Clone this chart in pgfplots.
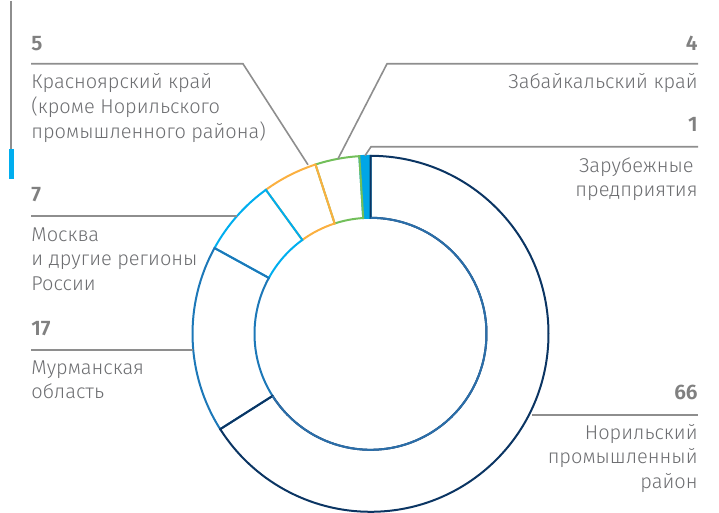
\documentclass[border=0pt]{standalone}
\usepackage{pgfplots}
\pgfplotsset{compat=1.18}
\usepackage{pgfplotstable}
\usetikzlibrary{calc}
\usepackage{fontspec}
\setmainfont{Fira Sans Light}[BoldFont={Fira Sans SemiBold}]

\definecolor{cNor}{HTML}{0B3563}
\definecolor{cNorIn}{HTML}{2B6EA9}
\definecolor{cMur}{HTML}{1D78B8}
\definecolor{cMos}{HTML}{00AEEF}
\definecolor{cKra}{HTML}{FBB040}
\definecolor{cZab}{HTML}{72BF5A}
\definecolor{cFor}{HTML}{00A6E6}
\definecolor{cTxt}{HTML}{6D6E71}
\definecolor{cNum}{HTML}{808080}
\definecolor{cLine}{HTML}{8E8E8E}

\tikzset{
  lab/.style={font=\fontsize{10}{12.5}\selectfont, text=cTxt, inner sep=0pt},
  num/.style={font=\fontsize{10.5}{12.5}\selectfont\bfseries, text=cNum, inner sep=0pt},
  lead/.style={cLine, line width=0.8pt}}

% share of regions, per cent
\pgfplotstableread{
region value
Norilsk 66
Murmansk 17
Moscow 7
Krasnoyarsk 5
Zabaikal 4
Foreign 1
}\shares

\def\cx{370.5}\def\cy{333}
\def\Ro{89pt}\def\Ri{58pt}

% one ring segment, clockwise from segS to segE
\newcommand\seg[2]{%
  \edef\sA{\csname segS#1\endcsname}\edef\sB{\csname segE#1\endcsname}%
  \edef\tmp{\noexpand\draw[#2,line width=1pt]
    ($(axis cs:\cx,\cy)+(\sA:\Ro)$) arc[start angle=\sA,end angle=\sB,radius=\Ro]
    -- ($(axis cs:\cx,\cy)+(\sB:\Ri)$) arc[start angle=\sB,end angle=\sA,radius=\Ri] -- cycle;}%
  \tmp}
\newcommand\innerarc[2]{%
  \edef\sA{\csname segS#1\endcsname}\edef\sB{\csname segE#1\endcsname}%
  \edef\tmp{\noexpand\draw[#2,line width=1pt]
    ($(axis cs:\cx,\cy)+(\sB:\Ri)$) arc[start angle=\sB,end angle=\sA,radius=\Ri];}%
  \tmp}

\begin{document}
\begin{tikzpicture}
\gdef\cur{90}
\foreach \i in {0,...,5}{
  \pgfplotstablegetelem{\i}{value}\of\shares
  \pgfmathsetmacro\nxt{\cur-3.6*\pgfplotsretval}
  \expandafter\xdef\csname segS\i\endcsname{\cur}
  \expandafter\xdef\csname segE\i\endcsname{\nxt}
  \xdef\cur{\nxt}
}
\begin{axis}[
    width=359.5pt, height=256pt, scale only axis,
    xmin=0, xmax=719, ymin=0, ymax=512, y dir=reverse,
    hide axis, clip=false]

\path (axis cs:0,0) rectangle (axis cs:719,512);

% ring
\seg{5}{draw=cFor,fill=cFor}
\seg{4}{draw=cZab}
\seg{3}{draw=cKra}
\seg{2}{draw=cMos}
\seg{1}{draw=cMur}
\seg{0}{draw=cNor}
\innerarc{0}{cNorIn}

% side marker
\draw[lead] (axis cs:11,0) -- (axis cs:11,148);
\fill[cMos] (axis cs:8.5,148) rectangle (axis cs:13.5,178);

% leader lines
\draw[lead] (axis cs:31,63) -- (axis cs:243,63) -- (axis cs:308,164);
\draw[lead] (axis cs:698,63) -- (axis cs:387,63) -- (axis cs:338,158);
\draw[lead] (axis cs:698,146) -- (axis cs:371,146) -- (axis cs:365,155);
\draw[lead] (axis cs:31,215) -- (axis cs:237,215);
\draw[lead] (axis cs:31,349) -- (axis cs:193,349);
\draw[lead] (axis cs:532,414) -- (axis cs:698,414);

% labels
\node[num, anchor=base west] at (axis cs:31,50) {5};
\node[lab, anchor=base west] at (axis cs:31,88) {Красноярский край};
\node[lab, anchor=base west] at (axis cs:31,113) {(кроме Норильского};
\node[lab, anchor=base west] at (axis cs:31,138) {промышленного района)};

\node[num, anchor=base east] at (axis cs:698,50) {4};
\node[lab, anchor=base east] at (axis cs:698,88) {Забайкальский край};

\node[num, anchor=base east] at (axis cs:698,131) {1};
\node[lab, anchor=base east] at (axis cs:694,172) {Зарубежные};
\node[lab, anchor=base east] at (axis cs:698,196) {предприятия};

\node[num, anchor=base west] at (axis cs:31,201) {7};
\node[lab, anchor=base west] at (axis cs:31,241) {Москва};
\node[lab, anchor=base west] at (axis cs:31,265) {и другие регионы};
\node[lab, anchor=base west] at (axis cs:31,290) {России};

\node[num, anchor=base west] at (axis cs:31,335) {17};
\node[lab, anchor=base west] at (axis cs:31,374) {Мурманская};
\node[lab, anchor=base west] at (axis cs:31,398) {область};

\node[num, anchor=base east] at (axis cs:698,399) {66};
\node[lab, anchor=base east] at (axis cs:698,439) {Норильский};
\node[lab, anchor=base east] at (axis cs:698,463) {промышленный};
\node[lab, anchor=base east] at (axis cs:698,488) {район};
\end{axis}
\end{tikzpicture}
\end{document}
